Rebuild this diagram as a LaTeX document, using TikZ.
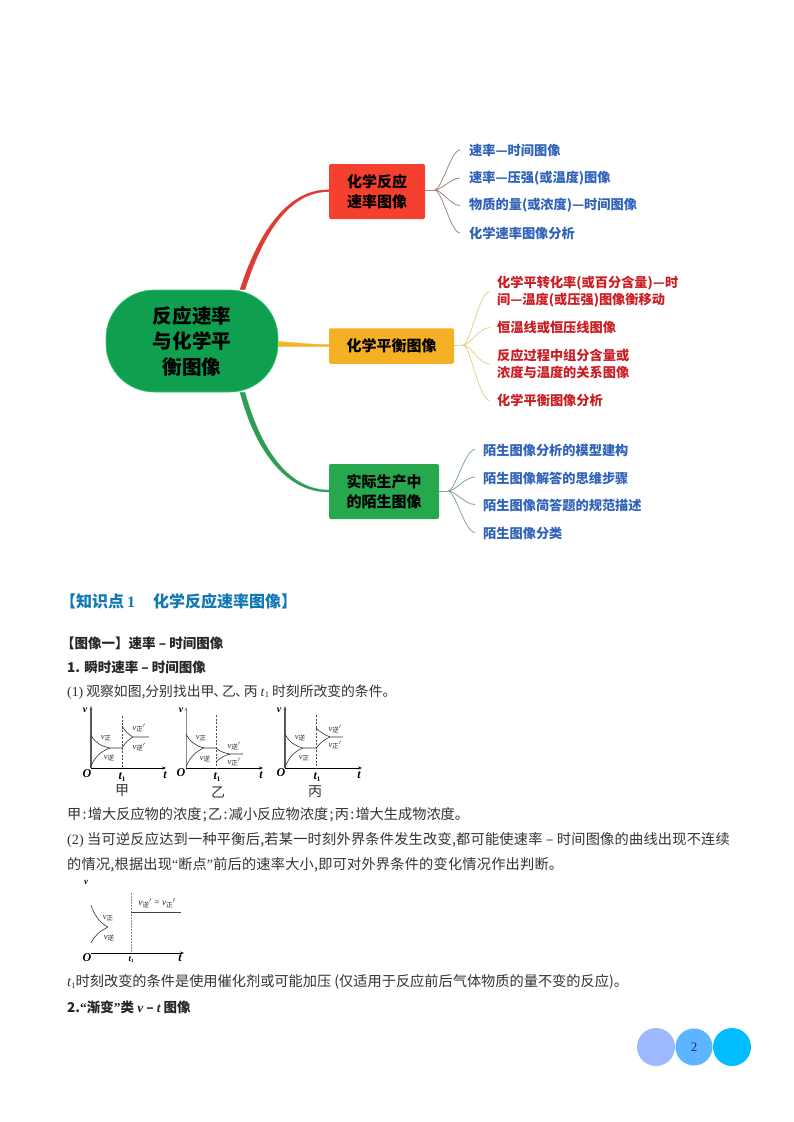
\documentclass[tikz,border=0pt]{standalone}
\usepackage{fontspec}
\setmainfont{Liberation Serif}
\newfontfamily\cjk{Noto Sans CJK SC}
\usetikzlibrary{calc,arrows.meta}
\definecolor{rootg}{HTML}{0FA04F}
\definecolor{rootl}{HTML}{3CCB72}
\definecolor{redb}{HTML}{F5402F}
\definecolor{yelb}{HTML}{F5B025}
\definecolor{grnb}{HTML}{27A84F}
\definecolor{redl}{HTML}{DC3C35}
\definecolor{yell}{HTML}{F2B62E}
\definecolor{grnl}{HTML}{2F9E55}
\definecolor{redf}{HTML}{AD8080}
\definecolor{yelf}{HTML}{E8D08C}
\definecolor{grnf}{HTML}{7FA68F}
\definecolor{itemb}{HTML}{2F62B8}
\definecolor{itemr}{HTML}{C81E24}
\definecolor{headb}{HTML}{1078B4}
\definecolor{bodyc}{HTML}{333333}
\definecolor{disc1}{HTML}{9DB9FF}
\definecolor{disc2}{HTML}{5DB4FF}
\definecolor{disc3}{HTML}{00BDFF}
\definecolor{navy}{HTML}{14326E}
\newcommand\fs[1]{\fontsize{#1}{#1}\selectfont}
\newcommand\lsk[1]{\setlength{\baselineskip}{#1}}
\newcommand\sbs[1]{\raisebox{-1.5pt}{\cjk\fs{6.5}#1}}
\newcommand\vv[2]{\textit{v}\sbs{#1}#2}
\newcommand\dun{\kern-1pt 、\kern-5pt}
\newcommand\tone{{\rmfamily\textit{t}\raisebox{-1.5pt}{\fs{8.5}1}}}
\tikzset{
  rootbox/.style={draw=rootl,line width=.6pt,fill=rootg,rounded corners=48pt,minimum width=172pt,minimum height=102pt,inner sep=0pt,align=center,font={\cjk\bfseries\fs{19.6}\lsk{25.5pt}}},
  topic/.style={fill=#1,rounded corners=2pt,inner sep=0pt,align=center,font={\cjk\bfseries\fs{15}\lsk{20.5pt}}},
  itm/.style={text=#1,inner sep=0pt,anchor=west,align=left,font={\cjk\bfseries\fs{13.2}\lsk{17.5pt}}},
  fan/.style={draw=#1,line width=.8pt},
  para/.style={anchor=west,inner sep=0pt,text=bodyc,font={\cjk\fs{14.2}}},
  parab/.style={anchor=west,inner sep=0pt,text=black!85,font={\cjk\bfseries\fs{13.5}}},
  axisl/.style={line width=.8pt,-{Stealth[length=4pt,width=3pt]}},
  crv/.style={line width=.6pt,black!80},
  drop/.style={line width=.7pt,dash pattern=on 2pt off 1.5pt,black!70},
  tagl/.style={inner sep=0pt,text=black!85,font={\fs{8.5}}},
  axl/.style={inner sep=0pt,text=black,font={\bfseries\itshape\fs{12}}},
  disc/.style={circle,minimum size=#1,inner sep=0pt}
}
\begin{document}
\begin{tikzpicture}[x=1pt,y=-1pt]
\useasboundingbox[fill=white] (0,0) rectangle (794,1122);

% ---- mind map
\node[rootbox] (root) at (192,341) {反应速率\\与化学平\\衡图像};
\node[topic=redb,minimum width=96pt,minimum height=55pt] (t1) at (377,191.5) {化学反应\\速率图像};
\node[topic=yelb,minimum width=125pt,minimum height=35.5pt] (t2) at (391.5,346) {化学平衡图像};
\node[topic=grnb,minimum width=110pt,minimum height=55pt] (t3) at (384,491.5) {实际生产中\\的陌生图像};

\fill[redl,draw=redl,line width=.2pt] ([xshift=48pt]root.north) .. controls (256,239) and (285,189) .. ([yshift=1.7pt]t1.west) -- ([yshift=-.2pt]t1.west) .. controls (286,191.5) and (260.5,241) .. ([xshift=53pt]root.north) -- cycle;
\fill[yell,draw=yell,line width=.2pt] ([yshift=-.5pt]root.east) .. controls (295,342.5) and (312,344.5) .. ([yshift=1.5pt]t2.west) -- ([yshift=-.5pt]t2.west) .. controls (312,346.5) and (295,346.5) .. ([yshift=-5.5pt]root.east) -- cycle;
\fill[grnl,draw=grnl,line width=.2pt] ([xshift=53pt]root.south) .. controls (259,444) and (286,490) .. ([yshift=1.5pt]t3.west) -- ([yshift=-.5pt]t3.west) .. controls (284,492.5) and (254,446) .. ([xshift=48pt]root.south) -- cycle;

\foreach \n/\y/\t in {a1/150/速率—时间图像,a2/178/速率—压强(或温度)图像,a3/205.5/物质的量(或浓度)—时间图像,a4/233/化学速率图像分析}
  \node[itm=itemb] (\n) at (469,\y) {\t};
\node[itm=itemr] (b1) at (497,291.5) {化学平转化率(或百分含量)—时\\间—温度(或压强)图像衡移动};
\node[itm=itemr] (b2) at (497,327.5) {恒温线或恒压线图像};
\node[itm=itemr] (b3) at (497,364) {反应过程中组分含量或\\浓度与温度的关系图像};
\node[itm=itemr] (b4) at (497,400.5) {化学平衡图像分析};
\foreach \n/\y/\t in {c1/450.5/陌生图像分析的模型建构,c2/478/陌生图像解答的思维步骤,c3/505.5/陌生图像简答题的规范描述,c4/533.5/陌生图像分类}
  \node[itm=itemb] (\n) at (483,\y) {\t};

\coordinate (j1) at ($(t1.east)+(9.5,-1.5)$);
\coordinate (j2) at ($(t2.east)+(9,-1)$);
\coordinate (j3) at ($(t3.east)+(9,-.5)$);
\draw[fan=redf] ([yshift=1.5pt]t1.east) -- (j1);
\draw[fan=yelf] ([yshift=1pt]t2.east) -- (j2);
\draw[fan=grnf] ([yshift=.5pt]t3.east) -- (j3);
\foreach \n in {a1,a2,a3,a4}
  \draw[fan=redf] (j1) .. controls +(7,0) and ($(\n.west)+(-18,0)$) .. ($(\n.west)+(-9,0)$);
\foreach \n in {b1,b2,b3,b4}
  \draw[fan=yelf] (j2) .. controls +(7,0) and ($(\n.west)+(-18,0)$) .. ($(\n.west)+(-7,0)$);
\foreach \n in {c1,c2,c3,c4}
  \draw[fan=grnf] (j3) .. controls +(7,0) and ($(\n.west)+(-18,-1)$) .. ($(\n.west)+(-8,-1)$);

% ---- text
\node[anchor=west,inner sep=0pt,text=headb,font={\cjk\bfseries\fs{16}}] (h0) at (60,601) {【知识点\hspace{3pt}{\rmfamily 1}\hspace{18pt}化学反应速率图像】};
\node[parab] (h1) at (61,643) {【图像一】速率 – 时间图像};
\node[parab] (h2) at (67,667) {1. 瞬时速率 – 时间图像};
\node[para,font={\cjk\fs{13.8}}] (p1) at (67,692) {{\rmfamily (1)} 观察如图,分别找出甲\dun 乙\dun 丙 \tone{} 时刻所改变的条件。};
\node[para] (p2) at (67,815) {甲\hspace{1.3pt}:\hspace{1.3pt}增大反应物的浓度\hspace{1.3pt};\hspace{1.3pt}乙\hspace{1.3pt}:\hspace{1.3pt}减小反应物浓度\hspace{1.3pt};\hspace{1.3pt}丙\hspace{1.3pt}:\hspace{1.3pt}增大生成物浓度。};
\node[para] (p3) at (67,840) {\addfontfeature{LetterSpace=1.6}{\rmfamily (2)} 当可逆反应达到一种平衡后,若某一时刻外界条件发生改变,都可能使速率 – 时间图像的曲线出现不连续};
\node[para] (p4) at (67,865) {\addfontfeature{LetterSpace=1.5}的情况,根据出现{\rmfamily “}断点{\rmfamily ”}前后的速率大小,即可对外界条件的变化情况作出判断。};
\node[para] (p5) at (67,982) {\tone{}时刻改变的条件是使用催化剂或可能加压 (仅适用于反应前后气体物质的量不变的反应)。};
\node[parab] (h3) at (67,1007) {2.{\rmfamily “}渐变{\rmfamily ”}类 {\rmfamily\itshape v} – {\rmfamily\itshape t} 图像};

% ---- chart jia
\draw[axisl,black!65,line width=1.1pt] (91,768) -- (91,706);
\draw[axisl] (91,768) -- (166,768);
\draw[drop] (122,716) -- (122,768);
\draw[crv] (91,735) .. controls (95,743) and (101,746) .. (110,748);
\draw[crv] (91,766) .. controls (95,757) and (101,751) .. (110,748) -- (122,748);
\draw[crv] (122,726) .. controls (125,731) and (129,735) .. (133,737) -- (149,737);
\draw[crv] (122,748) .. controls (125,743) and (129,739) .. (133,737);
\node[tagl] at (106,738) {\vv{正}{}};
\node[tagl] at (109,758) {\vv{逆}{}};
\node[tagl] at (139,728) {\vv{正}{$'$}};
\node[tagl] at (139,747) {\vv{逆}{$'$}};
\node[axl] at (87,774) {O};
\node[axl] at (122,777) {t\raisebox{-1.5pt}{\upshape\fs{7}1}};
\node[axl] at (165,775) {t};
\node[axl,font={\bfseries\itshape\fs{10}}] at (85,710) {v};
\node[inner sep=0pt,font={\cjk\fs{14}},text=bodyc] at (122,791) {甲};

% ---- chart yi
\draw[axisl,black!45,line width=.9pt] (186,768) -- (186,707);
\draw[axisl] (186,768) -- (263,768);
\draw[drop] (216,715) -- (216,768);
\draw[crv] (186,734) .. controls (190,742) and (196,746) .. (204,748);
\draw[crv] (186,767) .. controls (190,757) and (196,751) .. (204,748) -- (216,748);
\draw[crv] (216,748) .. controls (220,752) and (225,753) .. (230,754) -- (243,754);
\draw[crv] (216,762) .. controls (220,758) and (225,755) .. (230,754);
\node[tagl] at (201,738) {\vv{正}{}};
\node[tagl] at (205,759) {\vv{逆}{}};
\node[tagl] at (234,746) {\vv{逆}{$'$}};
\node[tagl] at (234,762) {\vv{正}{$'$}};
\node[axl] at (181,773) {O};
\node[axl] at (217,777) {t\raisebox{-1.5pt}{\upshape\fs{7}1}};
\node[axl] at (261,775) {t};
\node[axl,font={\bfseries\itshape\fs{10}}] at (181,710) {v};
\node[inner sep=0pt,font={\cjk\fs{14}},text=bodyc] at (218,792) {乙};

% ---- chart bing
\draw[axisl,black!65,line width=1.1pt] (285,768) -- (285,706);
\draw[axisl] (285,768) -- (362,768);
\draw[drop] (316,715) -- (316,768);
\draw[crv] (285,734) .. controls (289,742) and (295,746) .. (303,748);
\draw[crv] (285,767) .. controls (289,757) and (295,751) .. (303,748) -- (316,748);
\draw[crv] (316,728) .. controls (320,732) and (325,735) .. (330,737) -- (343,737);
\draw[crv] (316,748) .. controls (320,743) and (325,739) .. (330,737);
\node[tagl] at (300,738) {\vv{逆}{}};
\node[tagl] at (304,758) {\vv{正}{}};
\node[tagl] at (335,729) {\vv{逆}{$'$}};
\node[tagl] at (335,745) {\vv{正}{$'$}};
\node[axl] at (281,773) {O};
\node[axl] at (317,777) {t\raisebox{-1.5pt}{\upshape\fs{7}1}};
\node[axl] at (359,775) {t};
\node[axl,font={\bfseries\itshape\fs{10}}] at (279,710) {v};
\node[inner sep=0pt,font={\cjk\fs{14}},text=bodyc] at (315,792) {丙};

% ---- fourth chart
\draw[axisl] (91,953) -- (184,953);
\draw[line width=.5pt,dash pattern=on 1.5pt off 1.5pt,black!45] (131,893) -- (131,953);
\draw[crv] (91,905) .. controls (94,915) and (100,923) .. (108,927);
\draw[crv] (91,943) .. controls (95,935) and (100,931) .. (108,927);
\draw[line width=.9pt,black!75] (131,912) -- (181,912);
\node[tagl] at (108,918) {\vv{正}{}};
\node[tagl] at (109,938) {\vv{逆}{}};
\node[tagl,font={\fs{9.5}}] at (157,903) {\vv{逆}{$'$} = \vv{正}{$'$}};
\node[axl,font={\bfseries\itshape\fs{9}}] at (86,882) {v};
\node[axl] at (87,958) {O};
\node[axl,font={\bfseries\itshape\fs{9}}] at (131,959) {t\raisebox{-1pt}{\upshape\fs{5}1}};
\node[axl] at (180,958) {t};

% ---- page badge
\node[disc=38pt,fill=disc1] (d1) at (656,1047) {};
\node[disc=37pt,fill=disc2] (d2) at (694,1047) {};
\node[disc=38pt,fill=disc3] (d3) at (732,1047) {};
\node[inner sep=0pt,font={\fs{13}},text=navy] (pn) at (d2) {2};
\end{tikzpicture}
\end{document}
